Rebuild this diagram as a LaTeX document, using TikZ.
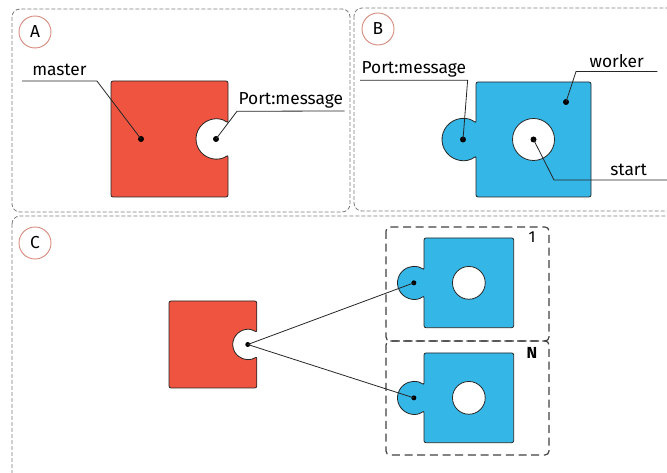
\documentclass[tikz,border=0pt]{standalone}
\usepackage{fontspec}
\setmainfont{Fira Sans}
\usepackage{tikz}

\definecolor{masterred}{RGB}{238,84,64}
\definecolor{workerblue}{RGB}{52,182,230}
\definecolor{tagred}{RGB}{214,140,128}
\definecolor{panelgray}{RGB}{125,125,125}

\tikzset{
	panel/.style = {draw = panelgray, line width = 0.6pt, dash pattern = on 3pt off 1.5pt, rounded corners = 6},
	group/.style = {draw = black!75, line width = 0.9pt, dash pattern = on 6pt off 3.5pt, rounded corners = 3},
	tag/.style = {circle, draw = tagred, line width = 0.7pt, minimum size = 24pt, inner sep = 0pt, font = \fontsize{13}{13}\selectfont},
	callout/.style = {font = \fontsize{13}{13}\selectfont, anchor = base west, inner ysep = 3.5pt, text depth = 0pt},
	count/.style = {font = \fontsize{12}{12}\selectfont},
	piece/.style = {draw = black!85, line width = 0.6pt, rounded corners = 1.5},
	hole/.style = {fill = white, draw = black!85, line width = 0.6pt},
	leader/.style = {black!85, line width = 0.6pt}
}

% red piece: #1 top-left corner, #2 scale, #3 name of its port
\newcommand{\masterpiece}[3]{
	\begin{scope}[shift = {#1}, scale = #2]
		\filldraw[piece, fill = masterred]
			(0, 0) -- (117, 0) -- (117, 42)
			arc[start angle = -53.13, end angle = -306.87, radius = 20]
			-- (117, 116) -- (0, 116) -- cycle;
		\coordinate (#3) at (105, 58);
	\end{scope}
}

% blue piece: #1 top-left corner, #2 scale, #3 name of its knob, #4 name of its hole
\newcommand{\workerpiece}[4]{
	\begin{scope}[shift = {#1}, scale = #2]
		\filldraw[piece, fill = workerblue]
			(0, 0) -- (115, 0) -- (115, 115) -- (0, 115) -- (0, 74)
			arc[start angle = 51.75, end angle = 308.25, radius = 21]
			-- cycle;
		\filldraw[hole] (57.5, 57.5) circle (21);
		\coordinate (#3) at (-13, 57.5);
		\coordinate (#4) at (57.5, 57.5);
	\end{scope}
}

\begin{document}
\begin{tikzpicture}[x = 0.75pt, y = -0.75pt]
	\clip (0, 0) rectangle (667, 473);

	% panels
	\draw[panel] (12, 9) rectangle (350, 212);
	\draw[panel] (354, 8) rectangle (690, 211);
	\draw[panel] (12, 216) rectangle (690, 495);
	\node[tag] (taga) at (35, 32) {A};
	\node[tag] (tagb) at (378, 29) {B};
	\node[tag] (tagc) at (35, 243) {C};

	% A: master
	\masterpiece{(111, 81)}{1}{aport}
	\coordinate (abody) at (141, 139);
	\fill (abody) circle (3);
	\fill (aport) circle (3);
	\node[callout, inner xsep = 7.5pt] (amaster) at (22, 76) {master};
	\node[callout, inner xsep = 1pt, inner ysep = 4.5pt] (amsg) at (237, 105) {Port:message};
	\draw[leader] (350, 111 -| amsg.south east) -- (amsg.south west) -- (aport);
	\draw[leader] (amaster.south west) -- (amaster.south east) -- (abody);

	% B: worker
	\workerpiece{(476, 82)}{1}{bknob}{bhole}
	\coordinate (bbody) at (566, 102);
	\coordinate (bknee) at (554, 180);
	\coordinate (bend) at (690, 180);
	\fill (bbody) circle (3);
	\fill (bknob) circle (3);
	\fill (bhole) circle (3);
	\node[callout, inner xsep = 1pt, inner ysep = 4.5pt] (bmsg) at (360, 74) {Port:message};
	\node[callout, inner xsep = 10pt, inner ysep = 2.5pt] (bworker) at (576, 68) {worker};
	\node[callout, inner xsep = 0pt] (bstart) at (610, 176) {start};
	\draw[leader] (bmsg.south west) -- (bmsg.south east) -- (bknob);
	\draw[leader] (bworker.south east) -- (bworker.south west) -- (bbody);
	\draw[leader] (bhole) -- (bknee) -- (bend);

	% C: one master, N workers
	\draw[group] (386, 227) rectangle (549, 341);
	\draw[group] (386, 341) rectangle (549, 455);
	\node[count] (cfirst) at (532, 237) {1};
	\node[count, font = \fontsize{12}{12}\selectfont\bfseries] (clast) at (532, 353) {N};
	\masterpiece{(169, 301)}{0.75}{cport}
	\workerpiece{(424, 238)}{0.78}{cknoba}{cholea}
	\workerpiece{(424, 353)}{0.78}{cknobn}{choleN}
	\fill (cport) circle (2.5);
	\fill (cknoba) circle (2.5);
	\fill (cknobn) circle (2.5);
	\draw[leader] (cport) -- (cknoba);
	\draw[leader] (cport) -- (cknobn);
\end{tikzpicture}
\end{document}
